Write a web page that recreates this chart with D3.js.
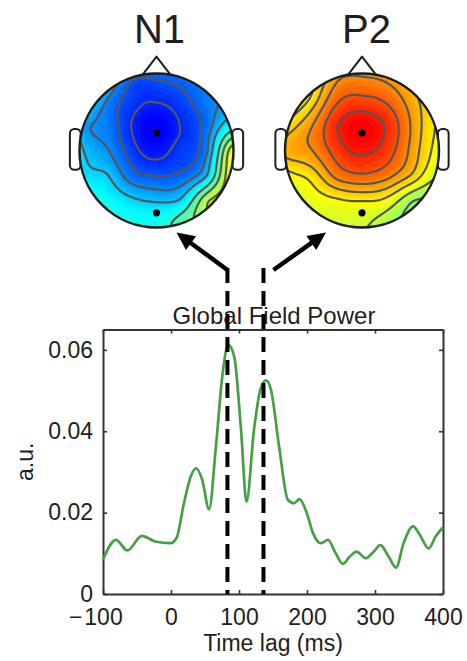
<!DOCTYPE html>
<html><head><meta charset="utf-8">
<script src="https://cdn.jsdelivr.net/npm/d3@7"></script>
<style>
html,body{margin:0;padding:0;background:#fff;}
svg{display:block;font-family:"Liberation Sans",Arial,Helvetica,sans-serif;}
</style></head><body>
<svg id="chart" width="467" height="661"></svg>
<script>
// ---------------- data ----------------
// Global field power trace (time lag in ms, amplitude in a.u.)
const timeMs = [-100,-81,-64,-43,-23,-1,8,19,29,37,46,56,66,76,84,93,103,111,122,132,140,147,159,172,181,189,199,209,220,231,241,253,263,273,286,298,308,320,331,342,356,366,379,389,400];
const gfpValues = [0.0085,0.0133,0.0107,0.0143,0.0129,0.0125,0.0137,0.0223,0.0289,0.0309,0.0280,0.0208,0.0362,0.0543,0.0612,0.0583,0.0403,0.0227,0.0403,0.0506,0.0525,0.0502,0.0362,0.0231,0.0223,0.0233,0.0202,0.0149,0.0125,0.0133,0.0104,0.0074,0.0092,0.0104,0.0088,0.0104,0.0120,0.0092,0.0065,0.0125,0.0166,0.0145,0.0112,0.0141,0.0164];
const xTicks = [-100,0,100,200,300,400];
const yTicks = [0,0.02,0.04,0.06];
const componentNames = ["N1","P2"];
const componentTimes = [83,136];

// Scalp map sample sites (normalized head coords, y down) and values (colour units -1..1)
const elecU = [-0.33,0,0.33, -0.67,-0.33,0,0.33,0.67, -1,-0.67,-0.33,0,0.33,0.67,1, -1,-0.67,-0.33,0,0.33,0.67,1, -1,-0.67,-0.33,0,0.33,0.67,1, -0.67,-0.33,0,0.33,0.67, -0.33,0,0.33];
const elecV = [-1,-1,-1, -0.67,-0.67,-0.67,-0.67,-0.67, -0.33,-0.33,-0.33,-0.33,-0.33,-0.33,-0.33, 0,0,0,0,0,0,0, 0.33,0.33,0.33,0.33,0.33,0.33,0.33, 0.67,0.67,0.67,0.67,0.67, 1,1,1];
const n1Map = [-0.50,-0.52,-0.50, -0.44,-0.62,-0.665,-0.61,-0.50, -0.36,-0.49,-0.68,-0.77,-0.67,-0.52,-0.24, -0.30,-0.45,-0.63,-0.72,-0.63,-0.46,0.25, -0.25,-0.33,-0.53,-0.58,-0.55,-0.32,0.28, -0.22,-0.31,-0.35,-0.30,0.15, -0.22,-0.22,-0.08];
const p2Map = [0.42,0.45,0.42, 0.28,0.55,0.60,0.55,0.40, 0.28,0.45,0.68,0.76,0.67,0.44,0.25, 0.40,0.46,0.63,0.71,0.63,0.42,0.22, 0.22,0.30,0.50,0.56,0.50,0.34,0.14, 0.20,0.24,0.26,0.22,0.02, 0.16,0.16,0.08];
const n1Levels = [-0.68,-0.58,-0.47,-0.35,-0.15,0.0,0.15];
const p2Levels = [0.69,0.58,0.47,0.37,0.27,0.15,0.03];
const markedU = [0,0];
const markedV = [-0.227,0.81];

// ---------------- setup ----------------
const svg = d3.select("#chart");
const ink = "#1e1e1e";

function clamp01(x){return Math.max(0,Math.min(1,x));}
const jet = t => {
  t = clamp01(t);
  const r = clamp01(1.5-Math.abs(4*t-3)), g = clamp01(1.5-Math.abs(4*t-2)), b = clamp01(1.5-Math.abs(4*t-1));
  return d3.rgb(r*255,g*255,b*255).toString();
};
const color = d3.scaleSequential(jet).domain([-1,1]);

// biharmonic spline (v4) interpolation
function green(r){ return r>0 ? r*r*(Math.log(r)-1) : 0; }
function fitSpline(us, vs, zs){
  const n = zs.length, A = [];
  for(let i=0;i<n;i++){
    const row=[];
    for(let j=0;j<n;j++) row.push(green(Math.hypot(us[i]-us[j], vs[i]-vs[j])));
    row.push(zs[i]); A.push(row);
  }
  for(let c=0;c<n;c++){
    let p=c;
    for(let r=c+1;r<n;r++) if(Math.abs(A[r][c])>Math.abs(A[p][c])) p=r;
    [A[c],A[p]]=[A[p],A[c]];
    for(let r=c+1;r<n;r++){
      const f=A[r][c]/A[c][c];
      for(let k=c;k<=n;k++) A[r][k]-=f*A[c][k];
    }
  }
  const w=new Array(n).fill(0);
  for(let r=n-1;r>=0;r--){
    let s=A[r][n];
    for(let k=r+1;k<n;k++) s-=A[r][k]*w[k];
    w[r]=s/A[r][r];
  }
  return w;
}
function evalSpline(w,us,vs,u,v){
  let s=0;
  for(let j=0;j<w.length;j++) s+=w[j]*green(Math.hypot(u-us[j],v-vs[j]));
  return s;
}

const R = 77, N = 130, ext = 1.06, step = 2*ext/N;

function drawHead(cx, cy, values, levels, idx){
  const g = svg.append("g");
  const w = fitSpline(elecU, elecV, values);
  const grid = new Float64Array(N*N);
  for(let j=0;j<N;j++) for(let i=0;i<N;i++){
    const u=-ext+(i+0.5)*step, v=-ext+(j+0.5)*step;
    grid[j*N+i]=evalSpline(w,elecU,elecV,u,v);
  }
  // ears
  [-1,1].forEach(side=>{
    g.append("rect")
      .attr("x", side>0 ? cx+0.985*R : cx-1.125*R)
      .attr("y", cy-0.28*R).attr("width",0.14*R).attr("height",0.53*R)
      .attr("rx",4.5).attr("fill","#fff").attr("stroke",ink).attr("stroke-width",2);
  });
  // nose
  g.append("path")
    .attr("d", d3.line()([[cx-0.185*R, cy-0.98*R],[cx, cy-1.22*R],[cx+0.185*R, cy-0.98*R]]))
    .attr("fill","#fff").attr("stroke",ink).attr("stroke-width",2).attr("stroke-linejoin","round");

  const proj = d3.geoIdentity().scale(step*R).translate([cx-ext*R, cy-ext*R]);
  const path = d3.geoPath(proj);
  const clipId = "headclip"+idx;
  g.append("clipPath").attr("id",clipId).append("circle").attr("cx",cx).attr("cy",cy).attr("r",R);
  const inner = g.append("g").attr("clip-path",`url(#${clipId})`);
  const thr = d3.range(-1.2, 1.2, 0.02);
  const bands = d3.contours().size([N,N]).thresholds(thr)(grid);
  inner.selectAll("path.band").data(bands).join("path")
    .attr("class","band").attr("d",path)
    .attr("fill",d=>color(d.value+0.01)).attr("stroke",d=>color(d.value+0.01)).attr("stroke-width",0.4);
  const lines = d3.contours().size([N,N]).thresholds(levels)(grid);
  inner.selectAll("path.iso").data(lines).join("path")
    .attr("class","iso").attr("d",path)
    .attr("fill","none").attr("stroke","#565656").attr("stroke-width",2.2);
  g.append("circle").attr("cx",cx).attr("cy",cy).attr("r",R)
    .attr("fill","none").attr("stroke",ink).attr("stroke-width",2.5);
  g.selectAll("circle.dot").data(markedU).join("circle").attr("class","dot")
    .attr("cx",(d,i)=>cx+d*R).attr("cy",(d,i)=>cy+markedV[i]*R).attr("r",3.6).attr("fill","#000");
}

const heads = [{cx:156.5, cy:150.5, vals:n1Map, lv:n1Levels, tx:159.5},{cx:362, cy:150.5, vals:p2Map, lv:p2Levels, tx:366.5}];
heads.forEach((h,i)=>{
  drawHead(h.cx,h.cy,h.vals,h.lv,i);
  svg.append("text").attr("x",h.tx).attr("y",43).attr("text-anchor","middle")
    .attr("font-size",40).attr("fill",ink).text(componentNames[i]);
});

// ---------------- GFP plot ----------------
const L=103, Rr=443, T=329.5, B=594;
const x = d3.scaleLinear().domain([-100,400]).range([L,Rr]);
const y = d3.scaleLinear().domain([0,0.065]).range([B,T]);
const axisColor="#333";

const gx = svg.append("g").attr("transform",`translate(0,${B})`)
  .call(d3.axisBottom(x).tickValues(xTicks).tickSizeInner(-4).tickSizeOuter(0).tickPadding(14.5).tickFormat(d=>Math.abs(d)));
const gy = svg.append("g").attr("transform",`translate(${L},0)`)
  .call(d3.axisLeft(y).tickValues(yTicks).tickSizeInner(-4).tickSizeOuter(0).tickPadding(10).tickFormat(d=>d===0?"0":d3.format(".2f")(d)));
const gt = svg.append("g").attr("transform",`translate(0,${T})`)
  .call(d3.axisTop(x).tickValues(xTicks).tickSizeInner(-4).tickSizeOuter(0).tickFormat(""));
const gr = svg.append("g").attr("transform",`translate(${Rr},0)`)
  .call(d3.axisRight(y).tickValues(yTicks).tickSizeInner(-4).tickSizeOuter(0).tickFormat(""));
[gx,gy,gt,gr].forEach(a=>{
  a.select(".domain").attr("stroke",axisColor).attr("stroke-width",2);
  a.selectAll(".tick line").attr("stroke",axisColor).attr("stroke-width",1.6);
  a.selectAll(".tick text").attr("font-size",23).attr("fill",ink).attr("font-family",null);
});
// minus signs hang left of the centred digits
gx.selectAll(".tick").filter(d=>d<0).each(function(){
  const t=d3.select(this).select("text");
  const wdt=t.node().getComputedTextLength();
  d3.select(this).append("text").attr("x",-wdt/2-2).attr("y",14.5).attr("dy","0.71em")
    .attr("text-anchor","end").attr("font-size",23).attr("fill",ink).text("\u2212");
});

const line = d3.line().x((d,i)=>x(timeMs[i])).y(d=>y(d)).curve(d3.curveMonotoneX);
svg.append("path").datum(gfpValues).attr("d",line)
  .attr("fill","none").attr("stroke","#45a045").attr("stroke-width",2.7).attr("stroke-linejoin","round");

svg.append("text").attr("x",(L+Rr)/2+1).attr("y",324).attr("text-anchor","middle")
  .attr("font-size",24).attr("fill",ink).text("Global Field Power");
svg.append("text").attr("x",(L+Rr)/2).attr("y",651).attr("text-anchor","middle")
  .attr("font-size",23).attr("fill",ink).text("Time lag (ms)");
svg.append("text").attr("transform",`translate(33,${(T+B)/2}) rotate(-90)`).attr("text-anchor","middle")
  .attr("font-size",23).attr("fill",ink).text("a.u.");

// ---------------- markers & arrows ----------------
const dashTop = 268;
svg.selectAll("line.marker").data(componentTimes).join("line").attr("class","marker")
  .attr("x1",d=>x(d)).attr("x2",d=>x(d)).attr("y1",dashTop).attr("y2",B)
  .attr("stroke","#000").attr("stroke-width",4).attr("stroke-dasharray","15,8");

const arrowSpecs = [
  {from:[x(componentTimes[0]), 270], to:[heads[0].cx+20, heads[0].cy+82]},
  {from:[x(componentTimes[1])+10, 270], to:[heads[1].cx-36, heads[1].cy+82]}
];
arrowSpecs.forEach(a=>{
  const [x0,y0]=a.from, [x1,y1]=a.to;
  const dx=x1-x0, dy=y1-y0, len=Math.hypot(dx,dy), ux=dx/len, uy=dy/len;
  const hl=18, hw=8.5;
  const bx=x1-ux*hl, by=y1-uy*hl;
  svg.append("line").attr("x1",x0).attr("y1",y0).attr("x2",bx+ux*2).attr("y2",by+uy*2)
    .attr("stroke","#000").attr("stroke-width",4.5);
  svg.append("path").attr("d",d3.line()([[x1,y1],[bx-uy*hw,by+ux*hw],[bx+uy*hw,by-ux*hw]])+"Z")
    .attr("fill","#000");
});
</script>
</body></html>
